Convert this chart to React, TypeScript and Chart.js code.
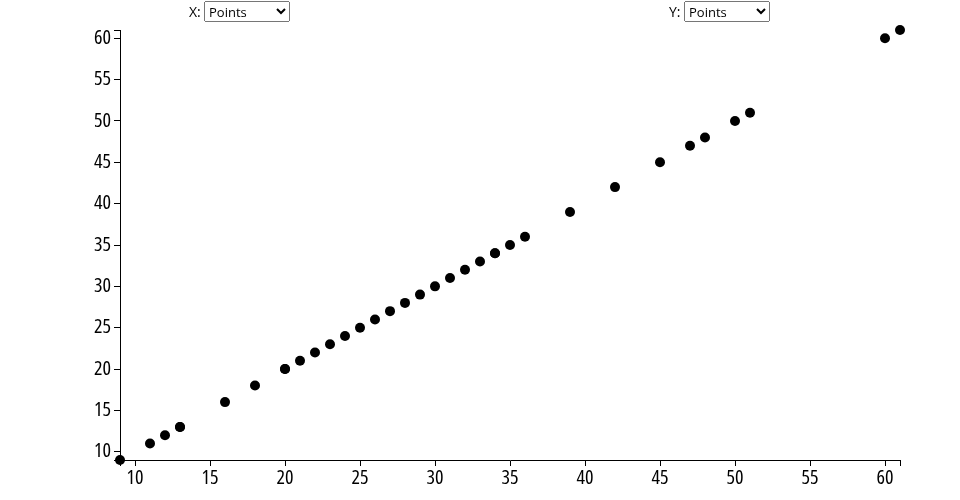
import React, { useEffect, useRef } from "react";
import { Chart, registerables } from "chart.js";

Chart.register(...registerables);

const xValues: number[] = [9, 11, 12, 13, 13, 16, 18, 20, 20, 21, 22, 23, 24, 25, 26, 27, 28, 29, 30, 31, 32, 33, 34, 34, 35, 36, 39, 42, 45, 47, 48, 50, 51, 60, 61];
const yValues: number[] = [9, 11, 12, 13, 13, 16, 18, 20, 20, 21, 22, 23, 24, 25, 26, 27, 28, 29, 30, 31, 32, 33, 34, 34, 35, 36, 39, 42, 45, 47, 48, 50, 51, 60, 61];
const axisMin = 9;
const axisMax = 61;
const xTickLabels: number[] = [10, 15, 20, 25, 30, 35, 40, 45, 50, 55, 60];
const yTickLabels: number[] = [10, 15, 20, 25, 30, 35, 40, 45, 50, 55, 60];
const selectOptions: string[] = ["Points"];

const FONT = "'Open Sans', 'DejaVu Sans Condensed', sans-serif";
const tickFont: any = { family: FONT, size: 20, weight: "normal semi-condensed" };

export default function App() {
  const canvasRef = useRef<HTMLCanvasElement | null>(null);

  useEffect(() => {
    const canvas = canvasRef.current;
    if (!canvas) return;
    const data = xValues.map((x, i) => ({ x, y: yValues[i] }));
    const makeTicks = (labels: number[]) => (s: any) => {
      s.ticks = [axisMin, ...labels, axisMax].map((v) => ({ value: v }));
    };
    const cb = (labels: number[]) => (v: any) => (labels.includes(Number(v)) ? String(v) : "");
    const chart = new Chart(canvas, {
      type: "scatter",
      data: {
        datasets: [
          {
            data,
            backgroundColor: "#000",
            borderColor: "#000",
            pointRadius: 5,
            pointHoverRadius: 5,
            borderWidth: 0,
            clip: false as any,
          },
        ],
      },
      options: {
        animation: false,
        responsive: false,
        maintainAspectRatio: false,
        layout: { padding: { left: 0, right: 60, top: 30, bottom: 0 } },
        plugins: { legend: { display: false }, tooltip: { enabled: false } },
        scales: {
          x: {
            type: "linear",
            min: axisMin,
            max: axisMax,
            afterBuildTicks: makeTicks(xTickLabels),
            afterFit: (s: any) => {
              s.height = 40;
            },
            border: { display: true, color: "#000", width: 1 },
            grid: { display: true, drawOnChartArea: false, drawTicks: true, tickLength: 6, color: "#000" },
            ticks: {
              autoSkip: false,
              maxRotation: 0,
              color: "#000",
              padding: 0,
              font: tickFont,
              callback: cb(xTickLabels),
            },
          },
          y: {
            type: "linear",
            min: axisMin,
            max: axisMax,
            afterBuildTicks: makeTicks(yTickLabels),
            afterFit: (s: any) => {
              s.width = 120;
            },
            border: { display: true, color: "#000", width: 1 },
            grid: { display: true, drawOnChartArea: false, drawTicks: true, tickLength: 6, color: "#000" },
            ticks: {
              autoSkip: false,
              color: "#000",
              padding: 3,
              font: tickFont,
              callback: cb(yTickLabels),
            },
          },
        },
      },
    });
    return () => chart.destroy();
  }, []);

  const labelStyle: React.CSSProperties = {
    position: "absolute",
    top: 2,
    fontFamily: "'Open Sans', sans-serif",
    fontSize: 14,
    color: "#000",
    lineHeight: "20px",
  };
  const selStyle: React.CSSProperties = {
    position: "absolute",
    top: 1,
    width: 86,
    height: 21,
    fontFamily: "'Open Sans', sans-serif",
    fontSize: 13,
  };

  return (
    <div style={{ position: "absolute", left: 0, top: 0, width: 960, height: 500, background: "#fff" }}>
      <canvas ref={canvasRef} width={960} height={500} style={{ position: "absolute", left: 0, top: 0, width: 960, height: 500 }} />
      <span style={{ ...labelStyle, left: 189 }}>X:</span>
      <select style={{ ...selStyle, left: 204 }} defaultValue={selectOptions[0]}>
        {selectOptions.map((o) => (
          <option key={o}>{o}</option>
        ))}
      </select>
      <span style={{ ...labelStyle, left: 669 }}>Y:</span>
      <select style={{ ...selStyle, left: 684 }} defaultValue={selectOptions[0]}>
        {selectOptions.map((o) => (
          <option key={o}>{o}</option>
        ))}
      </select>
    </div>
  );
}
